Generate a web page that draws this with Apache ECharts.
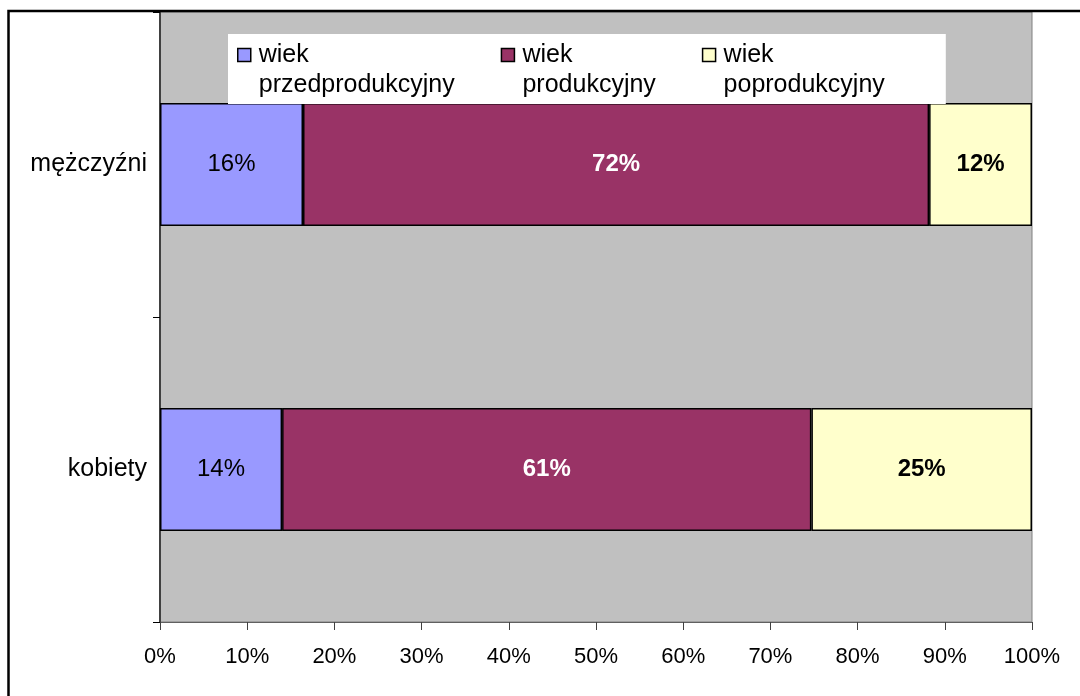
<!DOCTYPE html>
<html>
<head>
<meta charset="utf-8">
<script src="https://cdn.jsdelivr.net/npm/echarts@6/dist/echarts.min.js"></script>
<style>
html,body{margin:0;padding:0;background:#fff;}
#chart{width:1080px;height:696px;}
</style>
</head>
<body>
<div id="chart"></div>
<script>
var categories = ['kobiety', 'mężczyźni'];
var seriesNames = ['wiek przedprodukcyjny', 'wiek produkcyjny', 'wiek poprodukcyjny'];
var przedprodukcyjny = [14, 16.4];
var produkcyjny = [60.7, 71.8];
var poprodukcyjny = [25.3, 11.8];
var labelsPrzed = ['14%', '16%'];
var labelsProd = ['61%', '72%'];
var labelsPo = ['25%', '12%'];
var xTicks = [0, 10, 20, 30, 40, 50, 60, 70, 80, 90, 100];

var FONT = "'Liberation Sans', Arial, Helvetica, sans-serif";
var chart = echarts.init(document.getElementById('chart'), null, {renderer: 'canvas'});

function mkSeries(name, data, labels, color, labelColor, weight) {
  return {
    name: name,
    type: 'bar',
    stack: 'total',
    barWidth: 123,
    data: data,
    itemStyle: {color: color, borderColor: '#000', borderWidth: 1.5},
    label: {
      show: true,
      position: 'inside',
      formatter: function (p) { return labels[p.dataIndex]; },
      color: labelColor,
      fontWeight: weight,
      fontSize: 24,
      fontFamily: FONT
    },
    emphasis: {disabled: true}
  };
}

var option = {
  animation: false,
  backgroundColor: '#fff',
  graphic: [{
    type: 'rect',
    shape: {x: 8.5, y: 11, width: 1200, height: 800},
    style: {fill: 'none', stroke: '#000', lineWidth: 2.5},
    z: 100
  }],
  grid: {
    left: 160, right: 48, top: 12, bottom: 74,
    show: true, backgroundColor: '#C0C0C0', borderColor: '#808080', borderWidth: 1
  },
  legend: {
    left: 228, top: 34,
    backgroundColor: '#fff',
    padding: [6, 61, 4, 9],
    itemGap: 46,
    itemWidth: 13,
    itemHeight: 43,
    icon: 'path://M0,0L13,0L13,13L0,13Z M0,43',
    data: seriesNames,
    formatter: function (n) { return n.replace(' ', '\n'); },
    textStyle: {fontSize: 25, fontFamily: FONT, color: '#000', lineHeight: 30, padding: [0, 0, 0, 3]},
    itemStyle: {borderColor: '#000', borderWidth: 1.5}
  },
  xAxis: {
    type: 'value', min: 0, max: 100, interval: 10,
    axisLine: {show: true, lineStyle: {color: '#606060', width: 1}},
    axisTick: {show: true, length: 8, lineStyle: {color: '#404040'}},
    splitLine: {show: false},
    axisLabel: {formatter: '{value}%', fontSize: 22, fontFamily: FONT, color: '#000', margin: 24}
  },
  yAxis: {
    type: 'category', data: categories,
    axisLine: {show: true, lineStyle: {color: '#404040', width: 2}},
    axisTick: {show: true, length: 7, alignWithLabel: false, lineStyle: {color: '#000'}},
    axisLabel: {fontSize: 25, fontFamily: FONT, color: '#000', margin: 13}
  },
  series: [
    mkSeries(seriesNames[0], przedprodukcyjny, labelsPrzed, '#9999FF', '#000', 'normal'),
    mkSeries(seriesNames[1], produkcyjny, labelsProd, '#993366', '#fff', 'bold'),
    mkSeries(seriesNames[2], poprodukcyjny, labelsPo, '#FFFFCC', '#000', 'bold')
  ]
};
chart.setOption(option);
</script>
</body>
</html>
